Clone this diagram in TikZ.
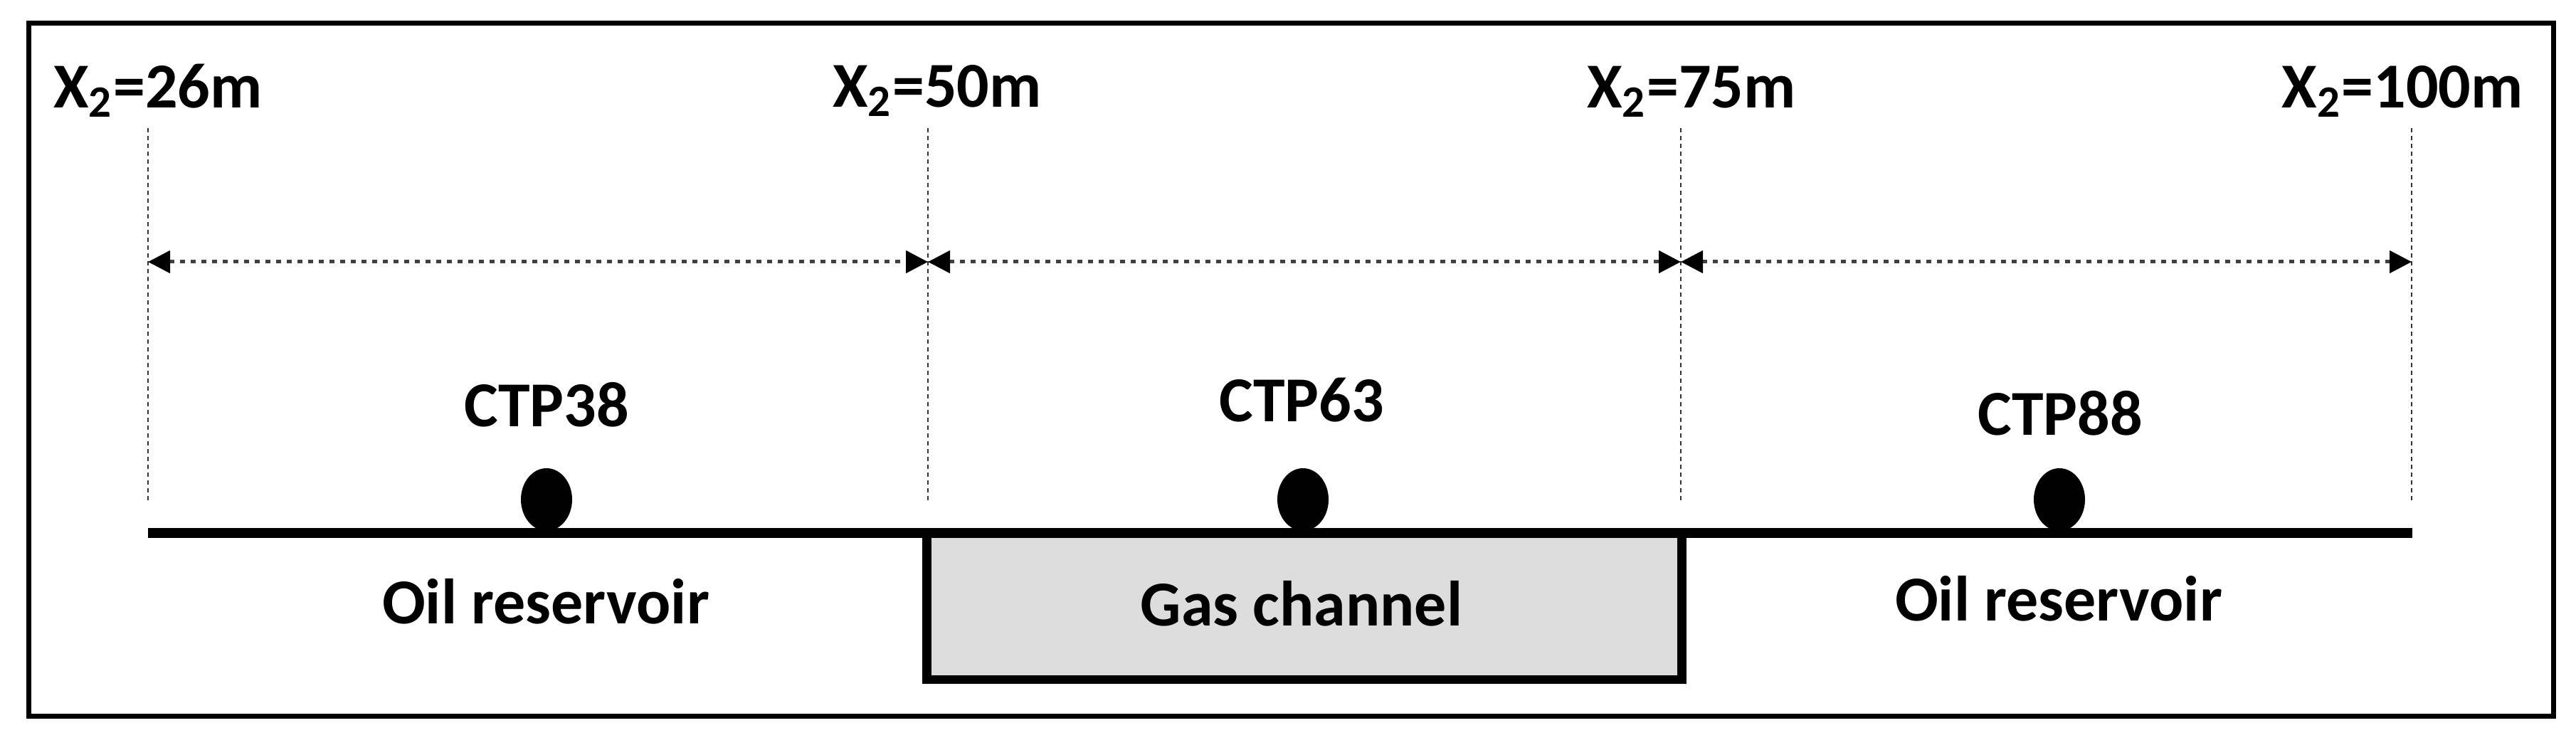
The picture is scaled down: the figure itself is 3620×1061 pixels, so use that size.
\documentclass[tikz,border=0pt]{standalone}
\usepackage{fontspec}
\setmainfont{Carlito}
\usetikzlibrary{arrows.meta,shapes.geometric}
\begin{document}
\begin{tikzpicture}[x=0.2pt,y=-0.2pt,
  lbl/.style={font=\fontsize{18pt}{22pt}\selectfont\bfseries, inner sep=0pt, anchor=base},
  guide/.style={line width=0.55pt, dash pattern=on 1.3pt off 0.9pt, black!80},
  span/.style={line width=1pt, dash pattern=on 1.5pt off 1.5pt, black!75,
    {Triangle[length=6.2pt,width=6.2pt,black]}-{Triangle[length=6.2pt,width=6.2pt,black]}, shorten <=0pt, shorten >=0pt},
  ground/.style={line width=2.7pt},
  well/.style={ellipse, fill=black, minimum width=14.4pt, minimum height=17.6pt, inner sep=0pt},
  chan/.style={draw, line width=2.5pt, fill=gray!27, minimum width=212.2pt, minimum height=41.2pt, inner sep=0pt}
]
\useasboundingbox (0,0) rectangle (3620,1061);
\draw[line width=1.4pt] (40,33) rectangle (3588,1007);

% labels at top
\node[lbl] (l26) at (222,152) {X\textsubscript{2}=26m};
\node[lbl] (l50) at (1317,151) {X\textsubscript{2}=50m};
\node[lbl] (l75) at (2377,152) {X\textsubscript{2}=75m};
\node[lbl] (l100) at (3376,152) {X\textsubscript{2}=100m};

% guide coordinates
\coordinate (t1) at (208,180); \coordinate (b1) at (208,708);
\coordinate (t2) at (1304,180); \coordinate (b2) at (1304,708);
\coordinate (t3) at (2362,180); \coordinate (b3) at (2362,708);
\coordinate (t4) at (3389,180); \coordinate (b4) at (3389,708);
\draw[guide] (t1) -- (b1);
\draw[guide] (t2) -- (b2);
\draw[guide] (t3) -- (b3);
\draw[guide] (t4) -- (b4);

\coordinate (a1) at (208,368);
\coordinate (a2) at (1304,368);
\coordinate (a3) at (2362,368);
\coordinate (a4) at (3389,368);
\draw[span] (a1) -- (a2);
\draw[span] (a2) -- (a3);
\draw[span] (a3) -- (a4);

% gas channel box
\node[chan] (gas) at (1833,852) {};
\node[lbl] (gastxt) at (1829,880) {Gas channel};

% ground line
\coordinate (g1) at (208,749);
\coordinate (g2) at (3390,749);
\draw[ground] (g1) -- (g2);

% wells
\node[well] (w1) at (768,702) {};
\node[well] (w2) at (1831,702) {};
\node[well] (w3) at (2894,702) {};

\node[lbl] (c38) at (768,600) {CTP38};
\node[lbl] (c63) at (1829,593) {CTP63};
\node[lbl] (c88) at (2895,612) {CTP88};

\node[lbl] (oil1) at (767,877) {Oil reservoir};
\node[lbl] (oil2) at (2893,873) {Oil reservoir};
\end{tikzpicture}
\end{document}
